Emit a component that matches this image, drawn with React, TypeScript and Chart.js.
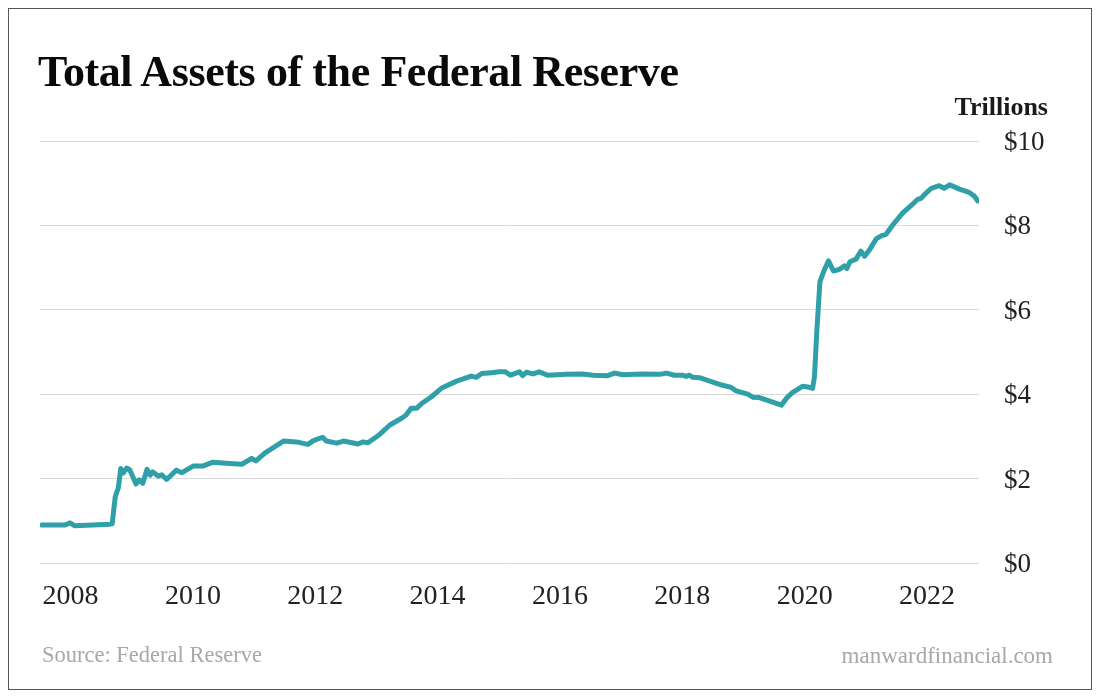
import React, { useEffect, useRef } from "react";
import { Chart, registerables } from "chart.js";

Chart.register(...registerables);

// ---- Data (decimal year, $ trillions) ----
const dates: number[] = [
  2007.53, 2007.91, 2007.99, 2008.07, 2008.65, 2008.68, 2008.73, 2008.78, 2008.82, 2008.86,
  2008.92, 2008.97, 2009.07, 2009.12, 2009.18, 2009.25, 2009.30, 2009.34, 2009.43, 2009.49,
  2009.57, 2009.73, 2009.82, 2010.01, 2010.17, 2010.33, 2010.60, 2010.80, 2010.96, 2011.03,
  2011.18, 2011.48, 2011.69, 2011.88, 2011.97, 2012.12, 2012.18, 2012.35, 2012.46, 2012.70,
  2012.78, 2012.86, 2013.03, 2013.22, 2013.41, 2013.48, 2013.57, 2013.66, 2013.74, 2013.90,
  2014.06, 2014.31, 2014.55, 2014.63, 2014.72, 2014.88, 2015.01, 2015.11, 2015.19, 2015.34,
  2015.39, 2015.45, 2015.56, 2015.66, 2015.80, 2016.10, 2016.37, 2016.54, 2016.78, 2016.89,
  2017.03, 2017.33, 2017.63, 2017.74, 2017.87, 2018.01, 2018.06, 2018.12, 2018.17, 2018.28,
  2018.61, 2018.80, 2018.88, 2019.07, 2019.15, 2019.26, 2019.62, 2019.70, 2019.80, 2019.97,
  2020.05, 2020.13, 2020.16, 2020.20, 2020.25, 2020.32, 2020.39, 2020.47, 2020.57, 2020.65,
  2020.69, 2020.74, 2020.84, 2020.92, 2020.98, 2021.06, 2021.17, 2021.25, 2021.33, 2021.44,
  2021.60, 2021.76, 2021.85, 2021.90, 2021.98, 2022.07, 2022.20, 2022.28, 2022.37, 2022.53,
  2022.69, 2022.77, 2022.83,
];

const assets: number[] = [
  0.90, 0.90, 0.95, 0.88, 0.92, 0.93, 1.57, 1.78, 2.24, 2.13,
  2.25, 2.20, 1.87, 1.97, 1.89, 2.22, 2.08, 2.16, 2.06, 2.09,
  1.98, 2.20, 2.14, 2.30, 2.30, 2.39, 2.36, 2.34, 2.48, 2.42,
  2.61, 2.89, 2.87, 2.81, 2.90, 2.98, 2.89, 2.84, 2.89, 2.82,
  2.87, 2.85, 3.02, 3.27, 3.43, 3.50, 3.67, 3.67, 3.78, 3.94,
  4.14, 4.31, 4.43, 4.40, 4.49, 4.51, 4.53, 4.53, 4.45, 4.53,
  4.44, 4.52, 4.48, 4.53, 4.45, 4.47, 4.48, 4.45, 4.44, 4.50,
  4.46, 4.48, 4.47, 4.50, 4.45, 4.45, 4.42, 4.45, 4.40, 4.39,
  4.23, 4.16, 4.08, 4.00, 3.93, 3.92, 3.74, 3.90, 4.04, 4.19,
  4.17, 4.14, 4.41, 5.52, 6.67, 6.94, 7.16, 6.92, 6.96, 7.04,
  6.98, 7.14, 7.20, 7.39, 7.27, 7.42, 7.68, 7.75, 7.79, 8.01,
  8.29, 8.50, 8.62, 8.64, 8.76, 8.88, 8.94, 8.88, 8.96, 8.86,
  8.78, 8.70, 8.58,
];

const yearTicks: number[] = [2008, 2010, 2012, 2014, 2016, 2018, 2020, 2022];
const valueTicks: number[] = [0, 2, 4, 6, 8, 10];

const titleText = "Total Assets of the Federal Reserve";
const unitText = "Trillions";
const sourceText = "Source: Federal Reserve";
const siteText = "manwardfinancial.com";

const SERIF = "'Liberation Serif', 'Times New Roman', serif";

export default function App() {
  const canvasRef = useRef<HTMLCanvasElement | null>(null);

  useEffect(() => {
    if (!canvasRef.current) return;
    const chart = new Chart(canvasRef.current, {
      type: "line",
      data: {
        datasets: [
          {
            data: dates.map((d, i) => ({ x: d, y: assets[i] })),
            borderColor: "#2FA0A8",
            borderWidth: 5,
            pointRadius: 0,
            tension: 0,
            borderCapStyle: "round",
            borderJoinStyle: "round",
            fill: false,
          },
        ],
      },
      options: {
        animation: false,
        responsive: false,
        maintainAspectRatio: false,
        layout: { padding: { left: 31, top: 132, right: 42, bottom: 76 } },
        plugins: {
          legend: { display: false },
          tooltip: { enabled: false },
          title: { display: false },
        },
        scales: {
          x: {
            type: "linear",
            min: 2007.5,
            max: 2022.85,
            grid: { display: false, drawTicks: false },
            border: { display: false },
            afterBuildTicks: (scale: any) => {
              scale.ticks = yearTicks.map((v) => ({ value: v }));
            },
            afterFit: (scale: any) => {
              scale.height = 50;
            },
            ticks: {
              padding: 17,
              color: "#222",
              font: { family: SERIF, size: 28 },
              maxRotation: 0,
              autoSkip: false,
              callback: (v: any) => String(v),
            },
          },
          y: {
            position: "right",
            min: 0,
            max: 10,
            grid: { color: "#d9d9d9", lineWidth: 1, drawTicks: false },
            border: { display: false },
            afterBuildTicks: (scale: any) => {
              scale.ticks = valueTicks.map((v) => ({ value: v }));
            },
            afterFit: (scale: any) => {
              scale.width = 70;
            },
            ticks: {
              padding: 25,
              labelOffset: 2,
              color: "#222",
              font: { family: SERIF, size: 27 },
              callback: (v: any) => "$" + v,
            },
          },
        },
      },
    });
    return () => chart.destroy();
  }, []);

  const text = (
    content: string,
    size: number,
    baseline: number,
    opts: { left?: number; right?: number; bold?: boolean; color?: string; spacing?: number }
  ) => (
    <div
      style={{
        position: "absolute",
        top: baseline - 0.8375 * size - 9,
        left: opts.left !== undefined ? opts.left - 9 : undefined,
        right: opts.right !== undefined ? 1091 - opts.right : undefined,
        fontFamily: SERIF,
        fontSize: size,
        lineHeight: 1,
        fontWeight: opts.bold ? 700 : 400,
        color: opts.color || "#111",
        letterSpacing: opts.spacing ?? 0,
        whiteSpace: "nowrap",
      }}
    >
      {content}
    </div>
  );

  return (
    <div
      style={{
        position: "relative",
        width: 1082,
        height: 680,
        border: "1px solid #555",
        background: "#fff",
        overflow: "hidden",
      }}
    >
      <canvas
        ref={canvasRef}
        width={1082}
        height={680}
        style={{ position: "absolute", left: 0, top: 0, width: 1082, height: 680 }}
      />
      {text(titleText, 44, 87, { left: 38, bold: true, color: "#0a0a0a", spacing: -0.4 })}
      {text(unitText, 26, 116, { right: 1048, bold: true, color: "#1a1a1a" })}
      {text(sourceText, 22.5, 663, { left: 42, color: "#a8a8a8" })}
      {text(siteText, 23, 663, { right: 1053, color: "#a8a8a8" })}
    </div>
  );
}
